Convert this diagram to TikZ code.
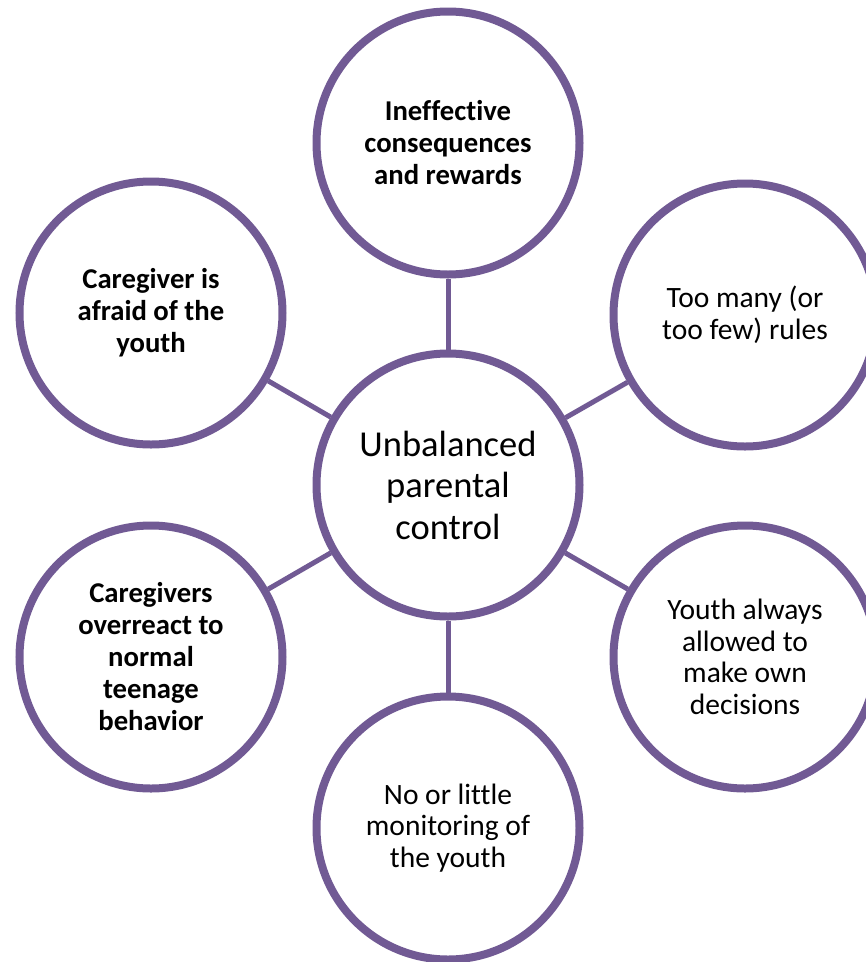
\documentclass[tikz,border=0pt]{standalone}
\usepackage{fontspec}
\setmainfont[Ligatures=NoCommon]{Carlito}
\usetikzlibrary{backgrounds}
\definecolor{ringpurple}{RGB}{113,90,148}
\tikzset{
  hub/.style={circle, draw=ringpurple, line width=8pt, fill=white,
    minimum size=263pt, inner sep=0pt, align=center,
    font=\fontsize{36.5}{41.5}\selectfont},
  spoke/.style={circle, draw=ringpurple, line width=8pt, fill=white,
    minimum size=263pt, inner sep=0pt, align=center,
    font=\fontsize{29.5}{31.5}\selectfont},
  boldspoke/.style={spoke, font=\fontsize{28.7}{32}\selectfont\bfseries},
  link/.style={draw=ringpurple, line width=5pt}
}
\begin{document}
\begin{tikzpicture}[x=1pt,y=1pt]
\useasboundingbox (0,0) rectangle (866,-962);
\node[hub] (c) at (448,-485) {Unbalanced\\parental\\control};
\node[boldspoke] (t) at (448,-143) {Ineffective\\consequences\\and rewards};
\node[spoke] (tr) at (745,-315) {Too many (or\\too few) rules};
\node[spoke] (br) at (745,-657) {Youth always\\allowed to\\make own\\decisions};
\node[spoke] (b) at (448,-828) {No or little\\monitoring of\\the youth};
\node[boldspoke] (bl) at (151,-657) {Caregivers\\overreact to\\normal\\teenage\\behavior};
\node[boldspoke] (tl) at (151,-313) {Caregiver is\\afraid of the\\youth};
\begin{scope}[on background layer]
\foreach \n in {t,tr,br,b,bl,tl} \draw[link] (c) -- (\n);
\end{scope}
\end{tikzpicture}
\end{document}
